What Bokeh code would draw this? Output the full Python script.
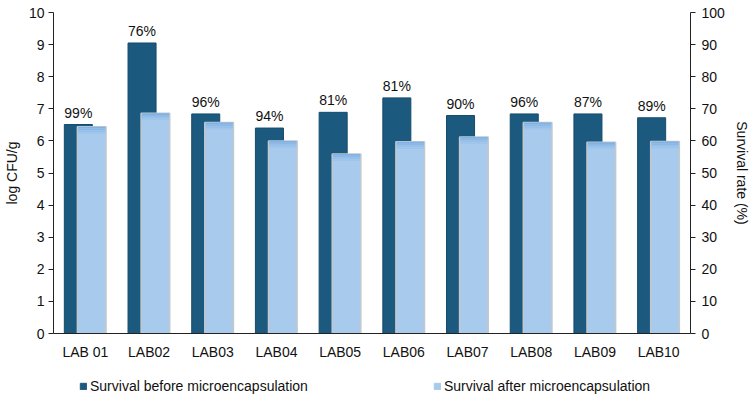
from bokeh.plotting import figure
from bokeh.layouts import column
from bokeh.models import (FactorRange, Range1d, LinearAxis, FixedTicker, Legend,
                          LegendItem, ColumnDataSource)
from bokeh.transform import dodge
from bokeh.embed import file_html
from bokeh.resources import INLINE
from bokeh.core.properties import value

# Viable counts (log CFU/g) of each strain before and after microencapsulation
strains = ["LAB 01", "LAB02", "LAB03", "LAB04", "LAB05",
           "LAB06", "LAB07", "LAB08", "LAB09", "LAB10"]
before = [6.51, 9.05, 6.84, 6.40, 6.89, 7.34, 6.79, 6.84, 6.84, 6.72]
after = [6.44, 6.86, 6.57, 6.00, 5.59, 5.97, 6.12, 6.57, 5.96, 5.98]
survival_rate = [99, 76, 96, 94, 81, 81, 90, 96, 87, 89]
series_names = ["Survival before microencapsulation",
                "Survival after microencapsulation"]

FONT = "Liberation Sans"
DARK = "#1b5a7e"
LIGHT = "#a8caed"

src = ColumnDataSource(dict(
    strain=strains,
    before=before,
    after=after,
    rate_text=[f"{r}%" for r in survival_rate],
))

p = figure(x_range=FactorRange(factors=strains, range_padding=0),
           y_range=Range1d(0, 10),
           width=752, height=370,
           output_backend="svg", toolbar_location=None,
           min_border_left=53, min_border_right=61,
           min_border_top=12, min_border_bottom=37)
p.outline_line_color = None
p.xgrid.grid_line_color = None
p.ygrid.grid_line_color = None

# Dark bars (before) sit behind the light bars (after)
p.vbar(x=dodge("strain", -0.11, range=p.x_range), top="before",
       width=0.44, source=src, fill_color=DARK,
       line_color="#154b6b", line_width=1)
p.vbar(x=dodge("strain", 0.10, range=p.x_range), top="after",
       width=0.45, source=src, fill_color=LIGHT,
       line_color="#c4c8cc", line_width=1.5)

# soft shading band at the top of the light bars
shades = ["#80b2e4", "#8bb9e7", "#96c0e9", "#a0c5eb"]
for i, col in enumerate(shades):
    band = ColumnDataSource(dict(
        strain=strains,
        top=[a - 0.055 * i for a in after],
        bottom=[a - 0.055 * (i + 1) for a in after],
    ))
    p.vbar(x=dodge("strain", 0.10, range=p.x_range), top="top", bottom="bottom",
           width=0.43, source=band, fill_color=col, line_color=None)

# survival-rate labels above the dark bars
p.text(x=dodge("strain", -0.11, range=p.x_range), y="before", text="rate_text",
       source=src, text_align="center", text_baseline="bottom", y_offset=-4,
       text_font=value(FONT), text_font_size="14px", text_color="#111111")

def style_axis(ax):
    ax.axis_line_color = "#222222"
    ax.axis_line_width = 1
    ax.major_label_text_font = FONT
    ax.major_label_text_font_size = "14px"
    ax.major_label_text_color = "#111111"
    ax.axis_label_text_font = FONT
    ax.axis_label_text_font_size = "14px"
    ax.axis_label_text_font_style = "normal"
    ax.axis_label_text_color = "#111111"
    ax.minor_tick_line_color = None

# left axis: log CFU/g
yl = p.yaxis[0]
style_axis(yl)
yl.ticker = FixedTicker(ticks=list(range(0, 11)))
yl.axis_label = "log CFU/g"
yl.major_tick_in = 0
yl.major_tick_out = 5
yl.major_tick_line_color = "#222222"
yl.major_label_standoff = 4
yl.axis_label_standoff = 6

# right axis: survival rate
p.extra_y_ranges = {"rate": Range1d(0, 100)}
yr = LinearAxis(y_range_name="rate", axis_label="Survival rate (%)",
                ticker=FixedTicker(ticks=list(range(0, 101, 10))))
style_axis(yr)
yr.major_tick_in = 0
yr.major_tick_out = 5
yr.major_tick_line_color = "#222222"
yr.major_label_standoff = 6
yr.axis_label_standoff = 6
p.add_layout(yr, "right")

# category axis
xa = p.xaxis[0]
style_axis(xa)
xa.major_tick_line_color = None
xa.major_tick_out = 0
xa.major_tick_in = 0
xa.major_label_standoff = 10

# legend strip underneath the chart; the key glyphs sit outside its visible range
lg = figure(width=752, height=29, x_range=Range1d(0, 1), y_range=Range1d(0, 1),
            x_axis_type=None, y_axis_type=None, output_backend="svg",
            toolbar_location=None, min_border=0)
lg.outline_line_color = None
lg.xgrid.grid_line_color = None
lg.ygrid.grid_line_color = None
key_src = ColumnDataSource(dict(x=[-10.0], top=[-10.0]))
k_before = lg.vbar(x="x", top="top", width=0.1, source=key_src,
                   fill_color=DARK, line_color=DARK)
k_after = lg.vbar(x="x", top="top", width=0.1, source=key_src,
                  fill_color=LIGHT, line_color=LIGHT)
legend = Legend(items=[
    LegendItem(label=series_names[0], renderers=[k_before]),
    LegendItem(label=series_names[1], renderers=[k_after]),
], orientation="horizontal", location=(26, 5), spacing=125,
    glyph_width=8, glyph_height=8, label_standoff=3, label_height=14,
    label_text_font=FONT, label_text_font_size="14px", label_text_color="#111111",
    border_line_color=None, background_fill_alpha=0, margin=0, padding=2)
lg.add_layout(legend)

layout = column(p, lg, spacing=0)
open("out.html", "w").write(file_html(layout, INLINE))
